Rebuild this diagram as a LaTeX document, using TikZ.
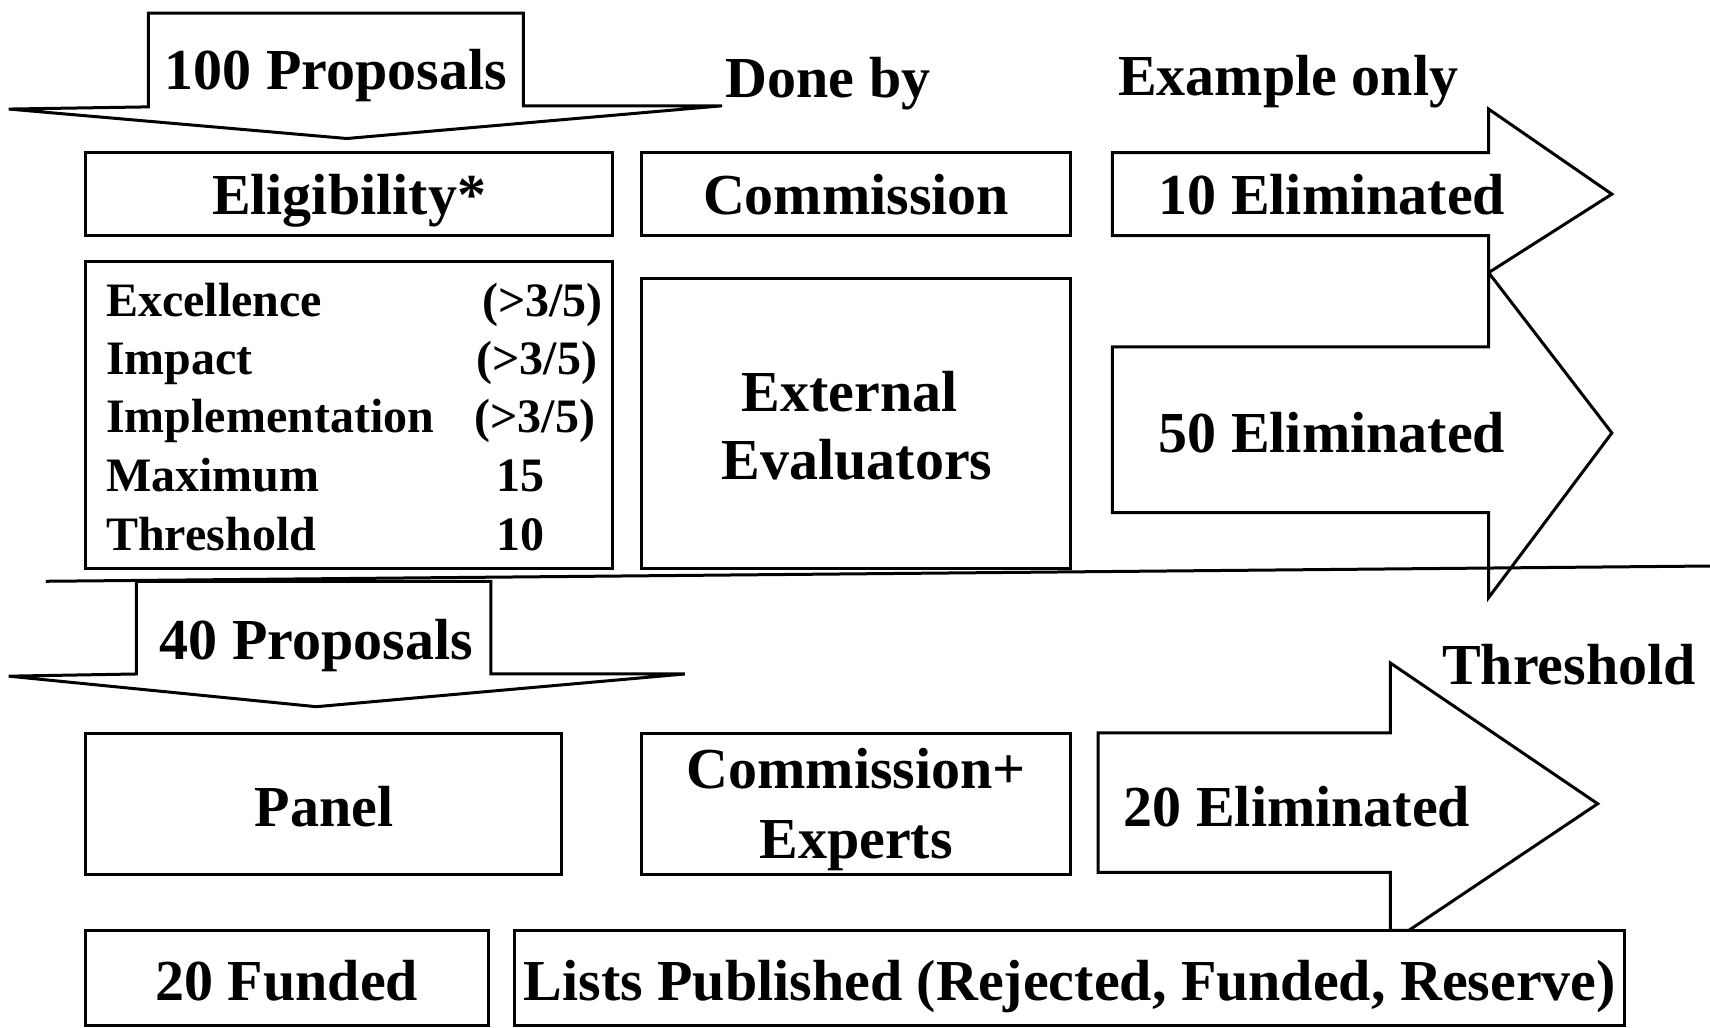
\documentclass[tikz,border=0pt]{standalone}
\usepackage{fontspec}
\setmainfont{Liberation Serif}
\usetikzlibrary{fit}
\begin{document}
\begin{tikzpicture}[x=0.5453pt,y=-0.5453pt,
  outl/.style={draw=black,line width=1.5pt,line join=miter,fill=white},
  box/.style={outl,inner sep=0pt},
  lbl/.style={font=\fontsize{29}{34}\selectfont\bfseries,inner sep=0pt},
  crit/.style={font=\fontsize{24}{28}\selectfont\bfseries,inner sep=0pt}]
\useasboundingbox (0,0) rectangle (1568,942);

% down arrow 100 proposals
\draw[outl] (8,100) -- (136,98) -- (136,12) -- (480,12) -- (480,97) -- (662,97) -- (318,127) -- cycle;
\node[lbl,anchor=base] (p100) at (308,82) {100 Proposals};
\node[lbl,anchor=base west] (doneby) at (665,89) {Done by};
\node[lbl,anchor=base west] (example) at (1025,88) {Example only};

% row 1
\node[box,fit={(78,140) (562,216)}] (elig) {};
\node[lbl,anchor=base] (eligT) at (320,197) {Eligibility*};
\node[box,fit={(588,140) (982,216)}] (comm) {};
\node[lbl,anchor=base] (commT) at (785,197) {Commission};
\draw[outl] (1020,140) -- (1365,140) -- (1365,100) -- (1478,178) -- (1365,250) -- (1365,216) -- (1020,216) -- cycle;
\node[lbl,anchor=base west] (e10) at (1062,197) {10 Eliminated};

% row 2
\node[box,fit={(78,240) (562,521)}] (crit) {};
\node[crit,anchor=base west] (c1) at (97,290) {Excellence};
\node[crit,anchor=base west] (c2) at (97,343) {Impact};
\node[crit,anchor=base west] (c3) at (97,397) {Implementation};
\node[crit,anchor=base west] (c4) at (97,451) {Maximum};
\node[crit,anchor=base west] (c5) at (97,505) {Threshold};
\node[crit,anchor=base east] (v1) at (553,290) {(>3/5)};
\node[crit,anchor=base east] (v2) at (548,343) {(>3/5)};
\node[crit,anchor=base east] (v3) at (546,397) {(>3/5)};
\node[crit,anchor=base west] (v4) at (455,451) {15};
\node[crit,anchor=base west] (v5) at (455,505) {10};
\node[box,fit={(588,255) (982,521)}] (ext) {};
\node[lbl,anchor=base] (extT1) at (779,377) {External};
\node[lbl,anchor=base] (extT2) at (786,440) {Evaluators};
\draw[outl] (1020,318) -- (1365,318) -- (1365,250) -- (1478,397) -- (1365,548) -- (1365,470) -- (1020,470) -- cycle;
\node[lbl,anchor=base west] (e50) at (1062,415) {50 Eliminated};

% down arrow 40 proposals
\draw[outl] (8,620) -- (125,618) -- (125,533) -- (450,533) -- (450,618) -- (628,618) -- (290,648) -- cycle;
\node[lbl,anchor=base] (p40) at (290,605) {40 Proposals};

% separator line
\coordinate (hl1) at (42,533);
\coordinate (hl2) at (1568,519);
\draw[line width=1.5pt] (hl1) -- (hl2);

% row 3
\node[box,fit={(78,673) (515,802)}] (panel) {};
\node[lbl,anchor=base] (panelT) at (297,758) {Panel};
\node[box,fit={(588,673) (982,802)}] (ce) {};
\node[lbl,anchor=base] (ceT1) at (785,723) {Commission+};
\node[lbl,anchor=base] (ceT2) at (785,787) {Experts};
\draw[outl] (1007,672) -- (1275,672) -- (1275,608) -- (1465,737) -- (1292,853) -- (1275,853) -- (1275,800) -- (1007,800) -- cycle;
\node[lbl,anchor=base west] (e20) at (1030,758) {20 Eliminated};
\node[lbl,anchor=base west] (thr) at (1322,628) {Threshold};

% row 4
\node[box,fit={(78,853) (448,940)}] (funded) {};
\node[lbl,anchor=base] (fundedT) at (263,917) {20 Funded};
\node[box,fit={(472,853) (1490,940)}] (lists) {};
\node[lbl,anchor=base] (listsT) at (981,917) {Lists Published (Rejected, Funded, Reserve)};
\end{tikzpicture}
\end{document}
